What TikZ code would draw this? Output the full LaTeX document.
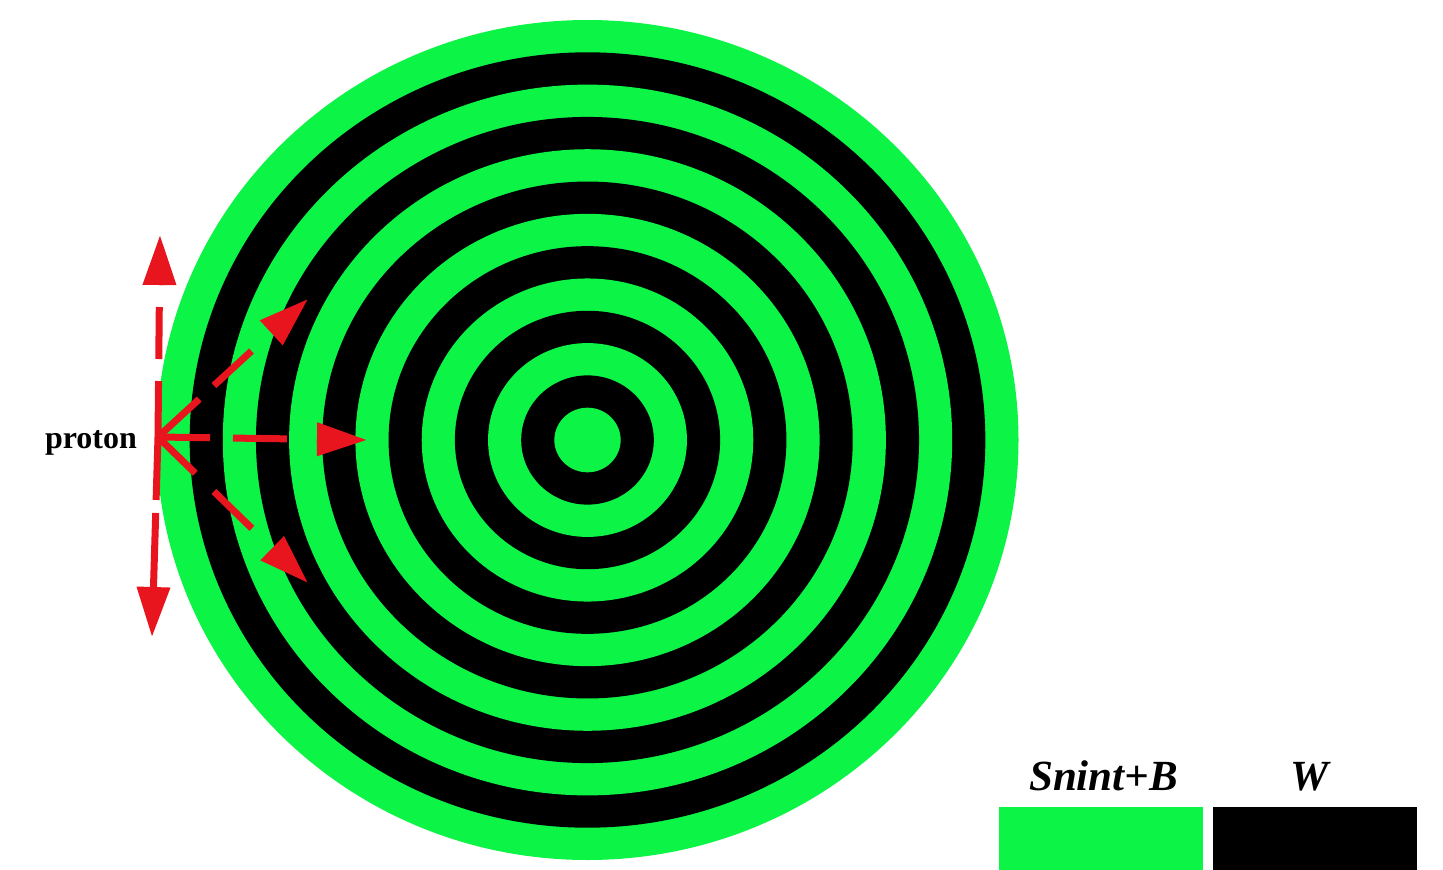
\documentclass[tikz,border=0pt]{standalone}
\usepackage{fontspec}
\setmainfont{Liberation Serif}
\usetikzlibrary{arrows.meta}
\definecolor{ringgreen}{RGB}{12,245,70}
\definecolor{arrowred}{RGB}{232,20,30}
\tikzset{
  ray/.style={draw=arrowred, line width=7pt,
    -{Triangle[length=50pt,width=32pt]}},
  legendbox/.style={minimum width=204pt, minimum height=63pt, inner sep=0pt, anchor=north west},
  legendtext/.style={font=\fontsize{43}{48}\selectfont\bfseries\itshape, anchor=base}
}
\begin{document}
\begin{tikzpicture}[x=1pt,y=-1pt]
\useasboundingbox (0,0) rectangle (1443,870);
% concentric rings
\coordinate (c) at (587.5,440);
\foreach \k in {13,12,...,1}{
  \ifodd\k
    \fill[ringgreen] (c) ellipse [x radius={431*\k/13}, y radius={420*\k/13}];
  \else
    \fill[black] (c) ellipse [x radius={431*\k/13}, y radius={420*\k/13}];
  \fi
}
% proton rays
\coordinate (o) at (158,437);
\coordinate (tup) at (160,235);
\coordinate (tdown) at (152,637);
\coordinate (tur) at (308,299);
\coordinate (tr) at (367,440);
\coordinate (tdr) at (308,583);
\draw[ray, dash pattern=on 56pt off 22pt on 52pt off 22pt] (o) -- (tup);
\draw[ray, dash pattern=on 63pt off 13pt on 80pt off 10pt] (o) -- (tdown);
\draw[ray, dash pattern=on 56pt off 20pt on 51pt off 30pt] (o) -- (tur);
\draw[ray, dash pattern=on 52pt off 23pt on 54pt off 30pt] (o) -- (tr);
\draw[ray, dash pattern=on 52pt off 26pt on 53pt off 30pt] (o) -- (tdr);
\node[font=\fontsize{32}{36}\selectfont\bfseries, anchor=base] (proton) at (91,448) {proton};
% legend
\node[legendbox, fill=ringgreen] (lg) at (999,807) {};
\node[legendbox, fill=black] (lb) at (1213,807) {};
\node[legendtext] (tg) at (1103.5,790) {Snint+B};
\node[legendtext] (tb) at (1310,790) {W};
\end{tikzpicture}
\end{document}
